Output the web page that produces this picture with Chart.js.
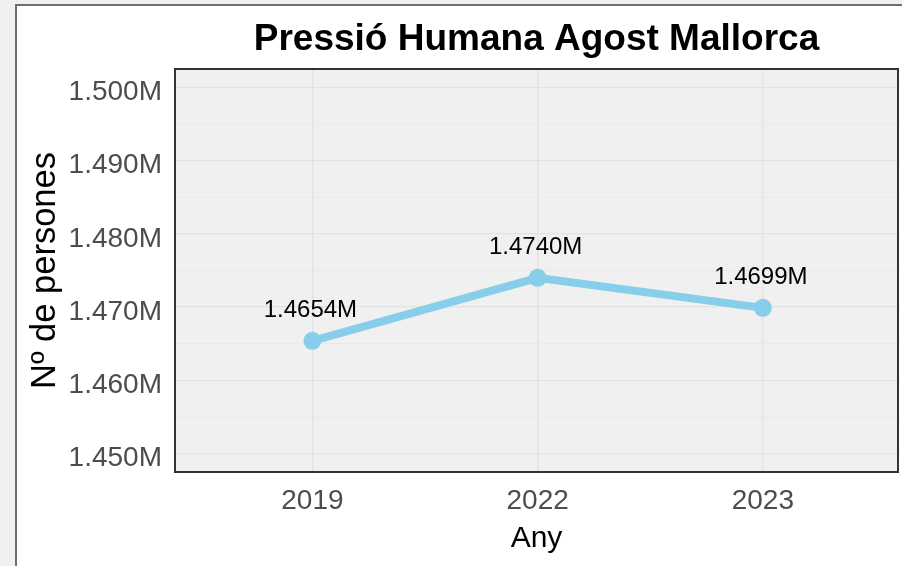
<!DOCTYPE html>
<html>
<head>
<meta charset="utf-8">
<script src="https://cdn.jsdelivr.net/npm/chart.js@4/dist/chart.umd.min.js"></script>
<style>
  html, body { margin: 0; padding: 0; background: #f0f0f0; overflow: hidden; }
  #frame { position: absolute; left: 15px; top: 4px; width: 885px; height: 560px; background: #fff; border-left: 2px solid #6e6e6e; border-top: 2px solid #6e6e6e; }
  #chart { position: absolute; left: 0; top: 0; }
</style>
</head>
<body>
<div id="frame"></div>
<canvas id="chart" width="902" height="566"></canvas>
<script>
/* Chart data. */
const years = ["2019", "2022", "2023"];
const persons = [1465400, 1474000, 1469900];
const yTickValues = [1450000, 1455000, 1460000, 1465000, 1470000, 1475000, 1480000, 1485000, 1490000, 1495000, 1500000];
const yMin = 1447500;
const yMax = 1502500;

const chartTitle = "Pressió Humana Agost Mallorca";
const xTitle = "Any";
const yTitle = "Nº de persones";

Chart.defaults.font.family = "'Liberation Sans', Arial, sans-serif";

const fmtM = (v, d) => (v / 1000000).toFixed(d) + "M";

/* Grey panel background and its dark border. */
const panel = {
	id: "panel",
	beforeDraw: (chart) => {
		const a = chart.chartArea;
		const ctx = chart.ctx;
		ctx.save();
		ctx.fillStyle = "#f0f0f0";
		ctx.fillRect(a.left, a.top, a.right - a.left, a.bottom - a.top);
		ctx.restore();
	},
	afterDraw: (chart) => {
		const a = chart.chartArea;
		const ctx = chart.ctx;
		ctx.save();
		ctx.strokeStyle = "#333333";
		ctx.lineWidth = 2;
		ctx.strokeRect(a.left, a.top, a.right - a.left, a.bottom - a.top);
		ctx.restore();
	},
};

/* Value labels above each point. */
const valueLabels = {
	id: "valueLabels",
	afterDatasetsDraw: (chart) => {
		const ctx = chart.ctx;
		const meta = chart.getDatasetMeta(0);
		ctx.save();
		ctx.fillStyle = "#000000";
		ctx.font = "24px 'Liberation Sans', Arial, sans-serif";
		ctx.textAlign = "center";
		ctx.textBaseline = "middle";
		meta.data.forEach((pt, i) => {
			ctx.fillText(fmtM(persons[i], 4), pt.x - 2, pt.y - 30);
		});
		ctx.restore();
	},
};

const chart = new Chart(
	document.getElementById("chart"),
	{
		type: "line",
		data:
		{
			datasets:
			[
				{
					label: yTitle,
					data: persons.map((v, i) => ({x: i, y: v})),
					borderColor: "#87ceeb",
					backgroundColor: "#87ceeb",
					borderWidth: 8,
					pointRadius: 9,
					pointBorderWidth: 0,
					pointBackgroundColor: "#87ceeb",
					tension: 0,
					clip: false,
				},
			],
		},
		options:
		{
			responsive: false,
			animation: false,
			devicePixelRatio: 1,
			layout: { autoPadding: false, padding: { left: 0, right: 4, top: 0, bottom: 0 } },
			plugins:
			{
				legend: { display: false },
				tooltip: { enabled: false },
				title:
				{
					display: true,
					text: chartTitle,
					color: "#000000",
					fullSize: false,
					font: { size: 37, weight: "bold", lineHeight: 1.2 },
					padding: { top: 18, bottom: 6.6 },
				},
			},
			scales:
			{
				x:
				{
					type: "linear",
					min: -0.61,
					max: 2.6,
					afterBuildTicks: (scale) => { scale.ticks = years.map((y, i) => ({value: i})); },
					afterFit: (scale) => { scale.height = 94; },
					ticks:
					{
						autoSkip: false,
						maxRotation: 0,
						padding: 12,
						color: "#4d4d4d",
						font: { size: 28, lineHeight: 1.2 },
						callback: (v) => years[v] ?? "",
					},
					grid: { color: "#e2e2e2", lineWidth: 1.3, drawTicks: false },
					border: { display: false },
					title:
					{
						display: true,
						text: xTitle,
						color: "#000000",
						font: { size: 30, lineHeight: 1.2 },
						padding: { top: 0, bottom: 9.5 },
					},
				},
				y:
				{
					min: yMin,
					max: yMax,
					afterBuildTicks: (scale) => { scale.ticks = yTickValues.map((v) => ({value: v})); },
					afterFit: (scale) => { scale.width = 175; },
					ticks:
					{
						padding: 13,
						labelOffset: 5,
						color: "#4d4d4d",
						font: { size: 28, lineHeight: 1.2 },
						callback: (v) => (v % 10000 === 0 ? fmtM(v, 3) : ""),
					},
					grid:
					{
						drawTicks: false,
						color: (c) => (c.tick && c.tick.value % 10000 === 0 ? "#e2e2e2" : "#e7e7e7"),
						lineWidth: (c) => (c.tick && c.tick.value % 10000 === 0 ? 1.3 : 0.8),
					},
					border: { display: false },
					title:
					{
						display: true,
						text: yTitle,
						color: "#000000",
						font: { size: 34.5, lineHeight: 1.2 },
						padding: { top: 25, bottom: 0 },
					},
				},
			},
		},
		plugins: [panel, valueLabels],
	}
);
</script>
</body>
</html>
